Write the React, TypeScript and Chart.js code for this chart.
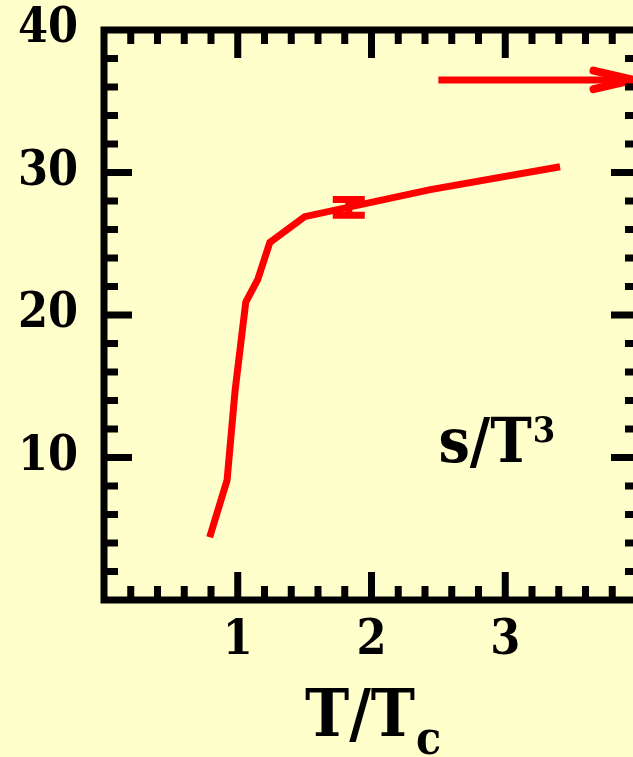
import React, { useEffect, useRef } from "react";
import { Chart, registerables } from "chart.js";

Chart.register(...registerables);

// ---- data ----
const CURVE_X = [0.79, 0.92, 0.98, 1.06, 1.15, 1.24, 1.5, 2.44, 3.41];
const CURVE_Y = [4.4, 8.4, 14.7, 20.9, 22.5, 25.1, 26.9, 28.8, 30.4];
const ERR_X = 1.83;
const ERR_LOW = 27.0;
const ERR_HIGH = 28.1;
const ARROW_X = [2.5, 3.96];
const ARROW_Y = [36.5, 36.5];
const HEAD_X = [3.66, 3.96, 3.66];
const HEAD_Y = [37.15, 36.5, 35.85];
const X_TICK_VALUES = [1, 2, 3];
const X_TICK_LABELS = ["1", "2", "3"];
const Y_TICK_VALUES = [10, 20, 30, 40];
const Y_TICK_LABELS = ["10", "20", "30", "40"];
const X_RANGE = [0, 4];
const Y_RANGE = [0, 40];
const X_MINOR_STEP = 0.2;
const Y_MINOR_STEP = 2;
const CURVE_LABEL_POS = [2.5, 9.7];

const FONT = "'DejaVu Serif Condensed', 'DejaVu Serif', serif";

const framePlugin = {
  id: "frame",
  afterDatasetsDraw(chart: any) {
    const { ctx, chartArea, scales } = chart;
    const xs = scales.x;
    const ys = scales.y;
    const { left, right, top, bottom } = chartArea;
    ctx.save();
    // error bar
    ctx.strokeStyle = "#ff0000";
    ctx.lineWidth = 7;
    const ex = xs.getPixelForValue(ERR_X);
    const eyl = ys.getPixelForValue(ERR_LOW);
    const eyh = ys.getPixelForValue(ERR_HIGH);
    ctx.beginPath();
    ctx.moveTo(ex, eyl);
    ctx.lineTo(ex, eyh);
    ctx.moveTo(ex - 16, eyl);
    ctx.lineTo(ex + 16, eyl);
    ctx.moveTo(ex - 16, eyh);
    ctx.lineTo(ex + 16, eyh);
    ctx.stroke();

    ctx.strokeStyle = "#000";
    ctx.fillStyle = "#000";
    ctx.lineWidth = 7;
    ctx.strokeRect(left, top, right - left, bottom - top);
    ctx.beginPath();
    const nx = Math.round((X_RANGE[1] - X_RANGE[0]) / X_MINOR_STEP);
    for (let i = 1; i < nx; i++) {
      const v = X_RANGE[0] + i * X_MINOR_STEP;
      const major = X_TICK_VALUES.some((t) => Math.abs(t - v) < 1e-6);
      const len = major ? 28 : 14;
      const px = xs.getPixelForValue(v);
      ctx.moveTo(px, bottom);
      ctx.lineTo(px, bottom - len);
      ctx.moveTo(px, top);
      ctx.lineTo(px, top + len);
    }
    const ny = Math.round((Y_RANGE[1] - Y_RANGE[0]) / Y_MINOR_STEP);
    for (let i = 1; i < ny; i++) {
      const v = Y_RANGE[0] + i * Y_MINOR_STEP;
      const major = Y_TICK_VALUES.some((t) => Math.abs(t - v) < 1e-6);
      const len = major ? 28 : 14;
      const py = ys.getPixelForValue(v);
      ctx.moveTo(left, py);
      ctx.lineTo(left + len, py);
      ctx.moveTo(right, py);
      ctx.lineTo(right - len, py);
    }
    ctx.stroke();

    // curve label s/T^3
    const lx = xs.getPixelForValue(CURVE_LABEL_POS[0]);
    const ly = ys.getPixelForValue(CURVE_LABEL_POS[1]);
    ctx.textAlign = "left";
    ctx.textBaseline = "alphabetic";
    ctx.font = `bold 62px ${FONT}`;
    ctx.fillText("s/T", lx, ly);
    const w1 = ctx.measureText("s/T").width;
    ctx.font = `bold 36px ${FONT}`;
    ctx.fillText("3", lx + w1 + 1, ly - 20);

    // x title T/T_c
    ctx.font = `bold 66px ${FONT}`;
    const tw = ctx.measureText("T/T").width;
    const tx = 305;
    ctx.fillText("T/T", tx, 736);
    ctx.font = `bold 46px ${FONT}`;
    ctx.fillText("c", tx + tw + 1, 754);
    ctx.restore();
  },
};

export default function App() {
  const ref = useRef<HTMLCanvasElement | null>(null);
  useEffect(() => {
    if (!ref.current) return;
    const chart = new Chart(ref.current, {
      type: "line",
      data: {
        datasets: [
          {
            data: CURVE_X.map((x, i) => ({ x, y: CURVE_Y[i] })),
            borderColor: "#ff0000",
            borderWidth: 7,
            pointRadius: 0,
            tension: 0,
            borderCapStyle: "butt",
            borderJoinStyle: "miter",
          },
          {
            data: ARROW_X.map((x, i) => ({ x, y: ARROW_Y[i] })),
            borderColor: "#ff0000",
            borderWidth: 7,
            pointRadius: 0,
            borderCapStyle: "butt",
          },
          {
            data: HEAD_X.map((x, i) => ({ x, y: HEAD_Y[i] })),
            borderColor: "#ff0000",
            borderWidth: 8,
            pointRadius: 0,
            borderCapStyle: "round",
            borderJoinStyle: "round",
          },
        ],
      },
      options: {
        animation: false,
        responsive: false,
        maintainAspectRatio: false,
        events: [],
        layout: { padding: { top: 30, right: 21, left: 0, bottom: 0 } },
        plugins: { legend: { display: false }, tooltip: { enabled: false } },
        scales: {
          x: {
            type: "linear",
            min: X_RANGE[0],
            max: X_RANGE[1],
            grid: { display: false },
            border: { display: false },
            afterFit: (s: any) => {
              s.height = 157;
              s.paddingLeft = 0;
              s.paddingRight = 0;
            },
            afterBuildTicks: (s: any) => {
              s.ticks = X_TICK_VALUES.map((v) => ({ value: v }));
            },
            ticks: {
              color: "#000",
              padding: 5,
              maxRotation: 0,
              font: { family: FONT, weight: "bold", size: 48 },
              callback: (v: any) => {
                const i = X_TICK_VALUES.indexOf(Number(v));
                return i >= 0 ? X_TICK_LABELS[i] : "";
              },
            },
          },
          y: {
            type: "linear",
            min: Y_RANGE[0],
            max: Y_RANGE[1],
            grid: { display: false },
            border: { display: false },
            afterFit: (s: any) => {
              s.width = 104;
              s.paddingTop = 0;
              s.paddingBottom = 0;
            },
            afterBuildTicks: (s: any) => {
              s.ticks = Y_TICK_VALUES.map((v) => ({ value: v }));
            },
            ticks: {
              color: "#000",
              padding: 18,
              font: { family: FONT, weight: "bold", size: 48 },
              callback: (v: any) => {
                const i = Y_TICK_VALUES.indexOf(Number(v));
                return i >= 0 ? Y_TICK_LABELS[i] : "";
              },
            },
          },
        },
      },
      plugins: [framePlugin],
    } as any);
    return () => chart.destroy();
  }, []);
  return (
    <div
      style={{
        position: "absolute",
        left: 0,
        top: 0,
        width: 633,
        height: 757,
        overflow: "hidden",
        background: "#ffffcc",
      }}
    >
      <canvas
        ref={ref}
        width={660}
        height={757}
        style={{ width: 660, height: 757, display: "block" }}
      />
    </div>
  );
}
